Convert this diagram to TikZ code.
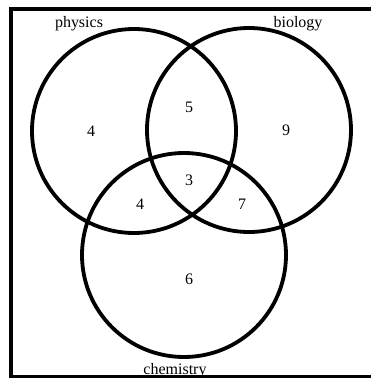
\documentclass[tikz,border=0pt]{standalone}
\usepackage{fontspec}
\setmainfont{Liberation Serif}
\usetikzlibrary{positioning}

\begin{document}
\begin{tikzpicture}[x=1pt,y=-1pt,
  setring/.style={draw=black,line width=3.8pt,circle,minimum size=204pt,inner sep=0pt},
  setname/.style={font=\fontsize{16}{18}\selectfont,anchor=base,inner sep=0pt},
  count/.style={font=\fontsize{16}{18}\selectfont,inner sep=0pt}]
\useasboundingbox (0,0) rectangle (370,378);
% frame
\draw[line width=3.8pt] (390,9) -- (11,9) -- (11,376.5) -- (390,376.5);
% the three sets
\node[setring] (physics) at (134,131) {};
\node[setring] (biology) at (249,130) {};
\node[setring] (chemistry) at (184,255) {};
\node[setname] (physicsname) at (79,27) {physics};
\node[setname] (biologyname) at (298,27) {biology};
\node[setname] (chemistryname) at (175,374) {chemistry};
% counts
\node[count] (ponly) at (91,131) {4};
\node[count] (bonly) at (286,130) {9};
\node[count] (conly) at (189,279) {6};
\node[count] (pb) at (189,107) {5};
\node[count] (pc) at (140,204) {4};
\node[count] (bc) at (242,204) {7};
\node[count] (pbc) at (189,180) {3};
\end{tikzpicture}
\end{document}
